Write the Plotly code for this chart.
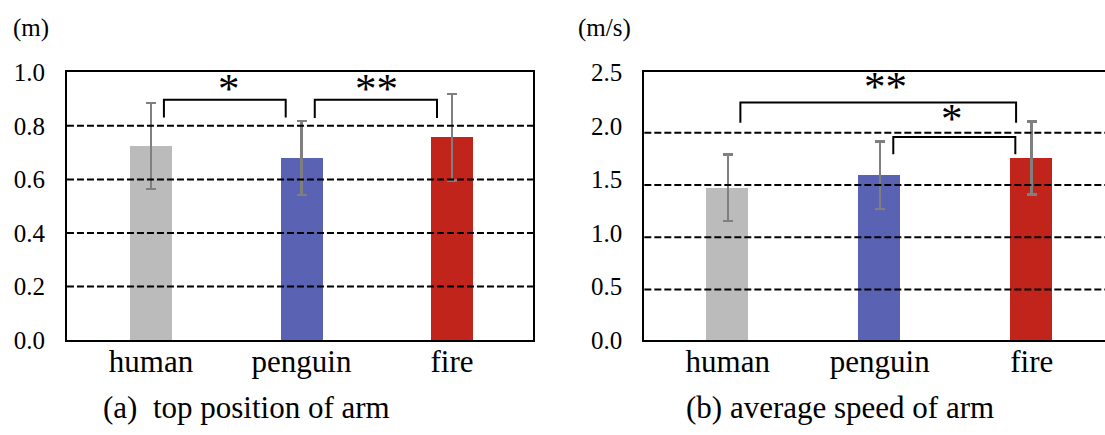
import plotly.graph_objects as go

# ---------------- data ----------------
categories = ["human", "penguin", "fire"]
bar_colors = ["#BBBBBB", "#5A62B4", "#C0241A"]

pos_mean = [0.725, 0.68, 0.757]
pos_err = [0.161, 0.138, 0.162]
speed_mean = [1.42, 1.54, 1.70]
speed_err = [0.31, 0.315, 0.34]

pos_ticks = [0.0, 0.2, 0.4, 0.6, 0.8, 1.0]
pos_tick_text = ["0.0", "0.2", "0.4", "0.6", "0.8", "1.0"]
speed_ticks = [0.0, 0.5, 1.0, 1.5, 2.0, 2.5]
speed_tick_text = ["0.0", "0.5", "1.0", "1.5", "2.0", "2.5"]
pos_grid = [0.2, 0.4, 0.6, 0.8]
speed_grid = [0.5, 1.0, 1.5, 2.0]

# significance brackets
pos_sig_start = [0.086, 1.088]
pos_sig_end = [0.895, 1.90]
pos_sig_top = [0.897, 0.897]
pos_sig_leg = [0.831, 0.829]
pos_sig_label = ["*", "**"]
pos_sig_label_x = [0.518, 1.495]
pos_sig_label_y = [0.941, 0.941]

speed_sig_start = [0.083, 1.089]
speed_sig_end = [1.897, 1.892]
speed_sig_top = [2.219, 1.895]
speed_sig_leg = [2.029, 1.734]
speed_sig_label = ["**", "*"]
speed_sig_label_x = [1.04, 1.474]
speed_sig_label_y = [2.365, 2.07]

captions = ["(a)&nbsp; top position of arm", "(b) average speed of arm"]
units = ["(m)", "(m/s)"]

# ---------------- figure ----------------
SERIF = "Liberation Serif, Times New Roman, serif"
xs = list(range(len(categories)))

fig = go.Figure()

err_style = dict(type="data", color="#7F7F7F", thickness=2.5, width=5)

fig.add_trace(go.Bar(x=xs, y=pos_mean, width=0.279, marker=dict(color=bar_colors, line=dict(width=0)),
                     error_y=dict(array=pos_err, **err_style), xaxis="x", yaxis="y", showlegend=False))
fig.add_trace(go.Bar(x=xs, y=speed_mean, width=0.277, marker=dict(color=bar_colors, line=dict(width=0)),
                     error_y=dict(array=speed_err, **err_style), xaxis="x2", yaxis="y2", showlegend=False))


def add_brackets(starts, ends, tops, legs, xa, ya):
    for s, e, t, l in zip(starts, ends, tops, legs):
        fig.add_trace(go.Scatter(x=[s, s, e, e], y=[l, t, t, l], mode="lines",
                                 line=dict(color="black", width=2), xaxis=xa, yaxis=ya,
                                 showlegend=False, hoverinfo="skip"))


add_brackets(pos_sig_start, pos_sig_end, pos_sig_top, pos_sig_leg, "x", "y")
add_brackets(speed_sig_start, speed_sig_end, speed_sig_top, speed_sig_leg, "x2", "y2")

annotations = []
for lab, lx, ly in zip(pos_sig_label, pos_sig_label_x, pos_sig_label_y):
    annotations.append(dict(text=lab, x=lx, y=ly, xref="x", yref="y", showarrow=False,
                            font=dict(family=SERIF, size=43, color="black"), yanchor="middle"))
for lab, lx, ly in zip(speed_sig_label, speed_sig_label_x, speed_sig_label_y):
    annotations.append(dict(text=lab, x=lx, y=ly, xref="x2", yref="y2", showarrow=False,
                            font=dict(family=SERIF, size=43, color="black"), yanchor="middle"))

for cap, cx in zip(captions, [0.2235, 0.7606]):
    annotations.append(dict(text=cap, x=cx, y=0.064, xref="paper", yref="paper", showarrow=False,
                            font=dict(family=SERIF, size=31, color="black"), xanchor="center", yanchor="middle"))
for u, ux in zip(units, [0.028, 0.5475]):
    annotations.append(dict(text=u, x=ux, y=0.9356, xref="paper", yref="paper", showarrow=False,
                            font=dict(family=SERIF, size=25, color="black"), xanchor="center", yanchor="middle"))

grid_line = dict(color="black", width=2, dash="7px,3px")
shapes = []
for g in pos_grid:
    shapes.append(dict(type="line", xref="x domain", yref="y", x0=0, x1=1, y0=g, y1=g,
                       line=grid_line, layer="above"))
for g in speed_grid:
    shapes.append(dict(type="line", xref="x2 domain", yref="y3", x0=0, x1=1, y0=g, y1=g,
                       line=grid_line, layer="above"))

ydom = [0.2184, 0.8338]
axis_common = dict(showline=True, linecolor="black", linewidth=2, showgrid=False, zeroline=False,
                   ticks="", fixedrange=True, automargin=False)

fig.update_layout(
    width=1105, height=435, autosize=False,
    margin=dict(l=0, r=0, t=0, b=0, pad=0, autoexpand=False),
    paper_bgcolor="white", plot_bgcolor="white",
    font=dict(family=SERIF, color="black"),
    bargap=0,
    xaxis=dict(domain=[0.0606, 0.4824], range=[-0.558, 2.538], anchor="y", mirror=True,
               tickvals=xs, ticktext=categories, tickfont=dict(size=31), ticklabelstandoff=-7,
               **axis_common),
    yaxis=dict(domain=ydom, range=[0, 1], anchor="x", mirror=True,
               tickvals=pos_ticks, ticktext=pos_tick_text, tickfont=dict(size=25),
               ticklabelstandoff=15, **axis_common),
    xaxis2=dict(domain=[0.5831, 1.0], range=[-0.549, 2.482], anchor="y2", mirror=True,
                tickvals=xs, ticktext=categories, tickfont=dict(size=31), ticklabelstandoff=-7,
                **axis_common),
    yaxis2=dict(domain=ydom, range=[0, 2.5], anchor="x2", mirror=False,
                tickvals=speed_ticks, ticktext=speed_tick_text, tickfont=dict(size=25),
                ticklabelstandoff=15, **axis_common),
    yaxis3=dict(overlaying="y2", anchor="x2", range=[0.016, 2.58], visible=False, fixedrange=True),
    annotations=annotations,
    shapes=shapes,
)

fig.write_html("out.html", config={"displayModeBar": False},
               post_script="document.body.style.margin='0';")
